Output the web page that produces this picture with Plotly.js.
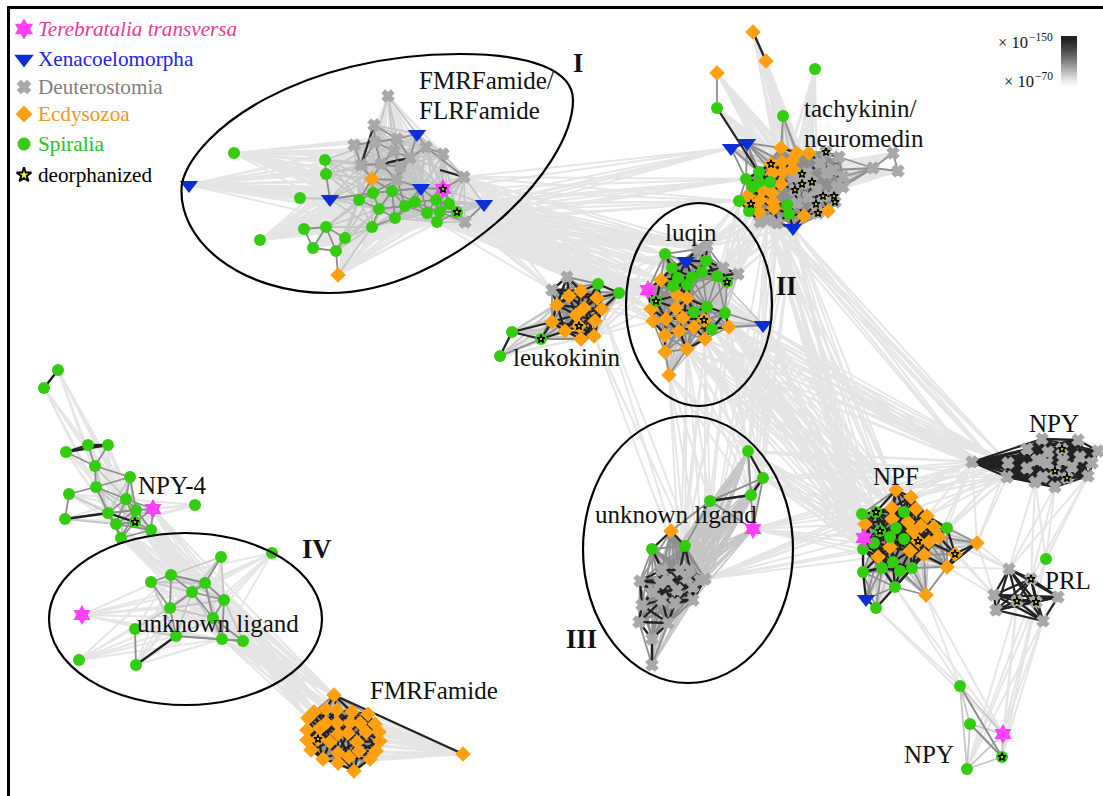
<!DOCTYPE html>
<html><head><meta charset="utf-8">
<script src="https://cdn.plot.ly/plotly-3.0.1.min.js"></script>
<style>html,body{margin:0;padding:0;background:#fff}</style></head>
<body><div id="chart" style="width:1103px;height:796px"></div>
<script>
// ---- nodes, by cluster and taxon ----
const I_deut=[[388,96],[374,125],[397,139],[354,145],[375,142],[426,147],[443,154],[394,151],[410,158],[361,165],[381,164],[400,167],[464,177],[397,180],[465,222]];
const I_xeno=[[417,134],[189,185],[330,199],[421,188],[484,204]];
const I_ecdy=[[372,179],[338,275]];
const I_tere=[[443,189]];
const I_spir=[[234,153],[325,160],[326,174],[300,198],[373,193],[392,191],[359,200],[379,209],[405,206],[415,202],[436,200],[449,204],[457,212],[440,212],[427,213],[437,222],[395,218],[372,227],[326,227],[304,229],[345,238],[260,240],[313,248],[336,251]];
const T_ecdy=[[753,32],[766,61],[717,73],[781,148],[797,153],[809,153],[771,164],[782,162],[792,161],[773,173],[783,172],[793,169],[781,184],[763,190],[748,196],[772,193],[760,200],[751,204],[773,202],[759,212],[774,208],[804,216],[828,211]];
const T_spir=[[815,69],[717,108],[783,116],[746,179],[759,172],[759,182],[753,187],[770,182],[739,201],[749,211],[787,205],[789,214]];
const T_xeno=[[731,148],[747,143],[793,228]];
const T_deut=[[893,153],[898,171],[873,168],[839,157],[826,152],[802,174],[802,184],[812,182],[795,190],[823,196],[834,196],[835,202],[816,204],[818,213],[820,163],[833,170],[843,177],[843,187],[827,173],[817,190],[808,197],[797,203],[837,187],[807,173],[793,177],[760,222],[777,223],[767,220]];
const L_deut=[[698,249],[707,246],[738,274],[723,268]];
const L_xeno=[[686,261],[763,325]];
const L_tere=[[648,290]];
const L_spir=[[665,254],[706,261],[672,268],[678,278],[692,277],[702,272],[717,276],[727,282],[673,286],[687,285],[656,301],[707,307],[694,312],[725,313],[712,329]];
const L_ecdy=[[661,280],[677,295],[687,298],[676,308],[651,309],[653,321],[666,319],[683,318],[704,320],[694,327],[729,327],[665,335],[679,331],[705,339],[687,349],[665,352],[669,375]];
const K_deut=[[567,277],[552,290]];
const K_spir=[[598,284],[619,293],[512,332],[541,339],[500,356]];
const K_ecdy=[[581,291],[569,296],[597,298],[557,305],[584,308],[602,309],[576,315],[595,321],[552,322],[579,326],[565,331],[594,336],[581,339]];
const F_ecdy=[[896,490],[911,497],[892,508],[916,509],[927,516],[892,519],[865,524],[908,522],[921,526],[934,527],[913,531],[939,537],[918,541],[929,542],[890,547],[910,551],[878,557],[924,555],[955,554],[977,543],[947,567],[926,595]];
const F_spir=[[862,514],[876,512],[904,512],[880,531],[896,528],[947,528],[874,543],[890,537],[904,539],[863,549],[863,572],[882,568],[893,562],[900,571],[912,568],[895,587],[876,608]];
const F_tere=[[864,538]];
const F_xeno=[[866,599]];
const Y_deut=[[972,462],[1042,439],[1078,440],[1098,451],[1027,449],[1062,449],[1048,452],[1080,457],[1092,463],[1008,463],[1027,468],[1047,463],[1072,467],[1055,471],[1007,477],[1067,478],[1088,476],[1035,482],[1055,487],[1063,460],[1037,460],[1043,477]];
const R_deut=[[1009,569],[1031,579],[994,595],[1017,601],[1036,602],[1058,597],[996,610],[1043,621]];
const R_spir=[[1046,559]];
const B_spir=[[960,686],[970,724],[967,769],[1002,757]];
const B_tere=[[1003,734]];
const M_ecdy=[[334,695],[463,754],[314,712],[326,709],[337,710],[352,712],[368,714],[308,718],[326,723],[337,723],[350,723],[360,723],[375,724],[307,730],[320,728],[338,734],[348,733],[366,732],[379,732],[307,740],[318,739],[330,742],[357,742],[380,741],[311,750],[323,759],[338,753],[349,757],[359,751],[376,751],[370,759],[338,763],[354,771]];
const U_spir=[[748,451],[763,478],[751,495],[710,501],[652,549],[685,546]];
const U_ecdy=[[671,531]];
const U_tere=[[753,529]];
const U_deut=[[640,581],[662,570],[705,579],[642,605],[639,622],[668,623],[652,639],[652,665],[680,570],[690,570],[660,583],[677,590],[693,600],[662,600],[687,578],[675,603],[700,580],[653,592],[693,587],[668,580]];
const N_spir=[[58,370],[44,388],[66,452],[88,445],[108,445],[95,466],[130,477],[96,487],[69,494],[126,499],[65,519],[108,513],[136,510],[135,522],[116,524],[151,530],[121,538],[195,505]];
const N_tere=[[153,509]];
const V_spir=[[221,557],[272,553],[171,575],[151,582],[205,583],[192,592],[224,600],[170,608],[213,618],[135,629],[176,636],[222,639],[243,641],[79,660],[136,665]];
const V_tere=[[82,615]];
const deorphanized=[[443,189],[457,212],[771,164],[751,204],[826,152],[802,174],[802,184],[812,182],[795,190],[823,196],[834,196],[835,202],[816,204],[818,213],[727,282],[656,301],[704,320],[541,339],[579,326],[876,512],[880,531],[918,541],[955,554],[1062,449],[1055,471],[1067,478],[1031,579],[1017,601],[1036,602],[1002,757],[318,739],[135,522]];
// strongest single links: [from, to]
const darkLinks=[[[753,32],[766,61]],[[717,108],[757,170]],[[58,370],[44,388]],[[66,452],[88,445]],[[88,445],[108,445]],[[66,452],[108,445]],[[65,519],[108,513]],[[108,513],[135,522]],[[136,665],[176,636]],[[512,332],[552,322]],[[334,695],[463,754]],[[955,554],[947,567]],[[977,543],[947,567]],[[895,587],[912,568]],[[710,501],[751,495]],[[652,639],[652,665]],[[374,125],[361,165]],[[381,164],[410,158]],[[440,170],[464,177]],[[567,277],[552,290]]];
const midLinks=[[[960,686],[1002,757]],[[748,451],[751,495]],[[710,501],[763,478]],[[751,495],[763,478]],[[330,199],[373,193]],[[392,191],[421,188]],[[426,147],[464,177]],[[176,636],[243,641]],[[970,724],[1002,757]],[[192,592],[205,583]],[[170,608],[192,592]]];
// within-cluster settings: [dark, mid, soft] distance limits
const clusterLimits={I:[0,28,62],T:[17,42,70],L:[22,40,70],K:[30,48,80],F:[30,44,62],Y:[400,400,400],R:[70,90,120],B:[0,0,120],M:[26,40,60],U:[32,60,170],N:[0,38,55],V:[0,40,60]};
// cluster middle and core radius; weak links must touch the core
const clusterCore={I:[410,190,62],T:[795,190,22],L:[690,300,40],K:[578,315,35],F:[900,535,32],Y:[1050,460,400],R:[1025,598,400],B:[980,730,400],M:[345,735,36],U:[675,590,32],N:[120,510,28],V:[200,610,46]};
// link ports for weak between-cluster bundles
const I_port=[[457,212],[465,222],[464,177],[449,204],[437,222],[443,189],[484,204]];
const L_portW=[[648,290],[665,254],[656,301],[651,309],[661,280],[698,249],[707,246],[672,268]];
const K_portN=[[567,277],[552,290],[598,284],[619,293]];
const K_portE=[[598,284],[619,293],[602,309],[594,336],[567,277]];
const L_portK=[[648,290],[651,309],[653,321],[665,254],[661,280]];
const T_portSW=[[760,222],[739,201],[749,211],[767,220],[793,228],[759,212]];
const L_portNE=[[738,274],[723,268],[707,246],[698,249],[727,282],[717,276]];
const L_portSE=[[729,327],[705,339],[725,313],[763,325],[712,329],[687,349]];
const F_portNW=[[896,490],[892,508],[865,524],[862,514],[864,538],[863,549],[876,512]];
const T_portS=[[793,228],[777,223],[767,220]];
const L_portS=[[669,375],[687,349],[705,339],[729,327]];
const U_portN=[[748,451],[763,478],[751,495],[710,501],[685,546],[680,570],[705,579]];
const U_portE=[[753,529],[763,478],[748,451],[705,579]];
const F_portW=[[865,524],[862,514],[864,538],[863,549],[890,547],[878,557]];
const F_portNE=[[896,490],[911,497],[927,516],[939,537],[947,528],[977,543]];
const Y_portW=[[972,462],[1007,477],[1008,463]];
const F_portSE=[[939,537],[947,567],[977,543],[934,527]];
const R_portNW=[[1009,569],[994,595]];
const Y_portS=[[1055,487],[1035,482],[1088,476]];
const R_portN=[[1046,559],[1009,569],[1031,579]];
const B_portR=[[1002,757],[967,769],[1003,734]];
const R_portS=[[1043,621],[1036,602],[1017,601],[1046,559]];
const F_portS=[[926,595],[895,587],[876,608]];
const B_portF=[[960,686],[1003,734]];
const N_port=[[126,499],[136,510],[135,522],[151,530],[121,538],[116,524],[153,509]];
const V_port=[[243,641],[222,639],[224,600],[213,618]];
const M_port=[[334,695],[326,709],[314,712],[337,710],[308,718],[326,723]];
const U_portS=[[705,579],[693,600]];
const T_portW=[[739,201],[746,179],[731,148]];
const K_portS=[[594,336],[602,309]];
const bundles=[[I_port,L_portW],[I_port,K_portN],[I_port,T_portW],[K_portE,L_portK],[T_portSW,L_portNE],[L_portS,U_portN],[L_portSE,F_portNW],[T_portS,F_portNW],[T_portS,U_portE],[U_portE,F_portW],[F_portNE,Y_portW],[L_portSE,Y_portW],[T_portS,Y_portW],[F_portSE,R_portNW],[Y_portS,R_portN],[R_portS,B_portR],[F_portS,B_portF],[N_port,V_port],[V_port,M_port],[N_port,M_port.slice(0,3)],[K_portS,U_portS],[U_portE,Y_portW]];
const taxa={
 deut:{sym:'x',size:10,color:'#a8a8a8',edge:1.6},
 ecdy:{sym:'diamond',size:12,color:'#ffa010',edge:0},
 spir:{sym:'circle',size:12,color:'#33cc0e',edge:0},
 xeno:{sym:'triangle-down',size:16,color:'#0a2fd6',edge:0},
 tere:{sym:'hexagram',size:15,color:'#ff40ff',edge:0}
};
const legendNames=['Terebratalia transversa','Xenacoelomorpha','Deuterostomia','Ecdysozoa','Spiralia','deorphanized'];
const legendColors=['#e6399b','#2222ee','#808080','#f7931e','#22c41a','#000000'];
const colorbarShade=[1,1,.98,.95,.92,.88,.84,.8,.76,.72,.68,.63,.58,.53,.48,.43,.38,.33,.28,.23,.18,.14,.1,.06,.03,.01,0];
const placeLabels=[['FMRFamide/',417,80],['FLRFamide',417,110],['tachykinin/',802,108],['neuromedin',802,138],['luqin',663,232],['leukokinin',511,357],['NPF',871,476],['NPY',1027,423],['PRL',1043,580],['NPY-4',136,485],['unknown ligand',593,514],['unknown ligand',135,623],['FMRFamide',368,690],['NPY',902,754]];
const romanLabels=[['I',578,63],['II',786,286],['III',581,639],['IV',316,549]];

// ---- build ----
const clusters={
 I:[...I_deut,...I_xeno,...I_ecdy,...I_tere,...I_spir],
 T:[...T_ecdy,...T_spir,...T_xeno,...T_deut],
 L:[...L_deut,...L_xeno,...L_tere,...L_spir,...L_ecdy],
 K:[...K_deut,...K_spir,...K_ecdy],
 F:[...F_ecdy,...F_spir,...F_tere,...F_xeno],
 Y:Y_deut, R:R_deut, B:[...B_spir,...B_tere], M:M_ecdy,
 U:[...U_spir,...U_ecdy,...U_tere,...U_deut], N:[...N_spir,...N_tere], V:[...V_spir,...V_tere]
};
const edges=[[],[],[],[]];
function add(k,a,b){edges[k].push([a,b]);}
for(const c in clusters){
  const n=clusters[c],lim=clusterLimits[c],core=clusterCore[c];
  const rad=p=>Math.hypot(p[0]-core[0],p[1]-core[1]);
  for(let i=0;i<n.length;i++)for(let j=i+1;j<n.length;j++){
    const d=Math.hypot(n[i][0]-n[j][0],n[i][1]-n[j][1]);
    const k=d<lim[0]?3:d<lim[1]?2:d<lim[2]?1:0;
    if(k<2 && Math.min(rad(n[i]),rad(n[j]))>core[2])continue;
    add(k,n[i],n[j]);
  }
}
for(const [A,B] of bundles){for(const a of A)for(const b of B)add(0,a,b);}
darkLinks.forEach(l=>add(3,l[0],l[1]));
midLinks.forEach(l=>add(2,l[0],l[1]));
const edgeColor=['#e5e5e5','#c6c6c6','#8e8e8e','#222222'];
const traces=[];
edges.forEach((list,k)=>{
  const x=[],y=[];
  list.forEach(([a,b])=>{x.push(a[0],b[0],null);y.push(a[1],b[1],null);});
  traces.push({type:'scatter',mode:'lines',x,y,hoverinfo:'skip',showlegend:false,
    line:{color:edgeColor[k],width:k==0?2:k==3?2.3:1.8}});
});
function nodes(t,list){
  const s=taxa[t];
  traces.push({type:'scatter',mode:'markers',x:list.map(p=>p[0]),y:list.map(p=>p[1]),hoverinfo:'skip',showlegend:false,
    marker:{symbol:s.sym,size:s.size,color:s.color,line:{width:s.edge,color:s.color}}});
}
nodes('deut',[...I_deut,...T_deut,...L_deut,...K_deut,...Y_deut,...R_deut,...U_deut]);
nodes('ecdy',[...I_ecdy,...T_ecdy,...L_ecdy,...K_ecdy,...F_ecdy,...M_ecdy,...U_ecdy]);
nodes('spir',[...I_spir,...T_spir,...L_spir,...K_spir,...F_spir,...R_spir,...B_spir,...U_spir,...N_spir,...V_spir]);
nodes('xeno',[...I_xeno,...T_xeno,...L_xeno,...F_xeno]);
nodes('tere',[...I_tere,...L_tere,...F_tere,...B_tere,...U_tere,...N_tere,...V_tere]);
traces.push({type:'scatter',mode:'markers',x:deorphanized.map(p=>p[0]),y:deorphanized.map(p=>p[1]),hoverinfo:'skip',showlegend:false,
  marker:{symbol:'star',size:6,color:'#ffff00',line:{color:'#000',width:1.4}}});
// key
const keyX=[24,24,24,24,24],keyY=[29,59,87,114,144];
['tere','xeno','deut','ecdy','spir'].forEach((t,i)=>{
  const s=taxa[t];
  traces.push({type:'scatter',mode:'markers',x:[keyX[i]],y:[keyY[i]],hoverinfo:'skip',showlegend:false,
    marker:{symbol:s.sym,size:s.size+1,color:s.color,line:{width:s.edge,color:s.color}}});
});
traces.push({type:'scatter',mode:'markers',x:[24],y:[175],hoverinfo:'skip',showlegend:false,
  marker:{symbol:'star',size:11,color:'#ffff20',line:{color:'#000',width:2}}});
// shade scale
const barY=colorbarShade.map((_,i)=>36+i*2).concat(90);
traces.push({type:'heatmap',x:[1061,1077],y:barY,z:colorbarShade.map(v=>[v]),
  zmin:0,zmax:1,showscale:false,hoverinfo:'skip',
  colorscale:[[0,'#ffffff'],[1,'#222222']]});
const serif='Liberation Serif';
const ann=[];
legendNames.forEach((t,i)=>ann.push({x:36,y:[29,59,87,114,144,175][i],xanchor:'left',yanchor:'middle',showarrow:false,
  text:i==0?'<i>'+t+'</i>':t,font:{family:serif,size:21.2,color:legendColors[i]}}));
placeLabels.forEach(l=>ann.push({x:l[1],y:l[2],xanchor:'left',yanchor:'middle',showarrow:false,text:l[0],font:{family:serif,size:25,color:'#111'}}));
romanLabels.forEach(l=>ann.push({x:l[1],y:l[2],xanchor:'center',yanchor:'middle',showarrow:false,text:'<b>'+l[0]+'</b>',font:{family:serif,size:26.5,color:'#111'}}));
ann.push({x:1030,y:42,xanchor:'right',yanchor:'middle',showarrow:false,text:'× 10',font:{family:serif,size:16.5,color:'#111'}});
ann.push({x:1055,y:37,xanchor:'right',yanchor:'middle',showarrow:false,text:'−150',font:{family:serif,size:11.5,color:'#111'}});
ann.push({x:1036,y:81,xanchor:'right',yanchor:'middle',showarrow:false,text:'× 10',font:{family:serif,size:16.5,color:'#111'}});
ann.push({x:1055,y:76,xanchor:'right',yanchor:'middle',showarrow:false,text:'−70',font:{family:serif,size:11.5,color:'#111'}});
const bl={color:'#000',width:2.2};
const shapes=[
 {type:'path',xref:'x',yref:'y',path:'M 182 183 C 195 130, 300 54, 460 54 C 530 54, 573 70, 573 100 C 573 170, 450 293, 329 293 C 240 293, 175 240, 182 183 Z',line:bl},
 {type:'circle',xref:'x',yref:'y',x0:626,x1:772,y0:203,y1:406,line:bl},
 {type:'circle',xref:'x',yref:'y',x0:583,x1:793,y0:416,y1:683,line:bl},
 {type:'circle',xref:'x',yref:'y',x0:49,x1:322,y0:533,y1:705,line:bl},
 {type:'line',xref:'x',yref:'y',x0:8.5,x1:8.5,y0:6,y1:796,line:{color:'#000',width:3}},
 {type:'line',xref:'x',yref:'y',x0:7,x1:1103,y0:7.5,y1:7.5,line:{color:'#000',width:3}}
];
Plotly.newPlot('chart',traces,{
  width:1103,height:796,margin:{l:0,r:0,t:0,b:0},paper_bgcolor:'#fff',plot_bgcolor:'#fff',showlegend:false,
  xaxis:{range:[0,1103],visible:false,fixedrange:true},
  yaxis:{range:[796,0],visible:false,fixedrange:true},
  annotations:ann,shapes:shapes
},{staticPlot:true,displayModeBar:false});
</script></body></html>
